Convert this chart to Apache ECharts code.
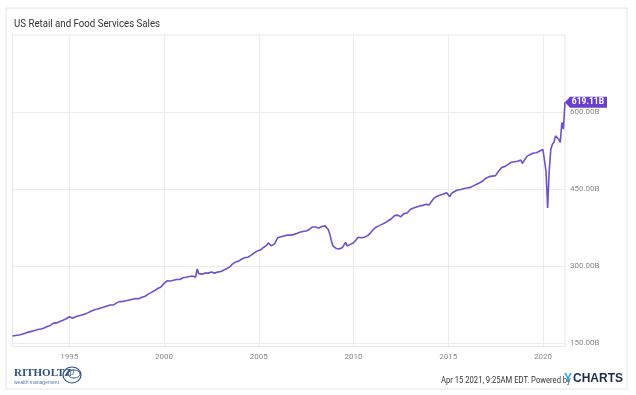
<!DOCTYPE html>
<html>
<head>
<meta charset="utf-8">
<script src="https://cdn.jsdelivr.net/npm/echarts@6/dist/echarts.min.js"></script>
<style>
html,body{margin:0;padding:0;background:#fff;}
#c{width:636px;height:395px;}
</style>
</head>
<body>
<div id="c"></div>
<script>
// ---- Data (billions USD, monthly, Jan 1992 - Mar 2021) ----
var startYear = 1992;
var v1992 = [163.5,164,164.5,165,165.5,166.5,167,168,169,170,171,172];
var v1993 = [172.5,173,174,175,176,176.5,177,178,179,180.5,182,183];
var v1994 = [184,186,188.5,188,189,190,191.5,193,194,195.5,197,198.5];
var v1995 = [201,199,198,199.5,201,202,203,203.5,204.5,205.5,206.5,207.5];
var v1996 = [209,211,212,213,214.5,215,216,217,218,219,220,221];
var v1997 = [222,223,224,225,224,225,228,227,230.5,230,231,231.5];
var v1998 = [232,233,233.5,234,235,236,236.5,237,236,237.5,239,240];
var v1999 = [241,243,245,247,248.5,250,252,254,256,257,259,262];
var v2000 = [266,269,271,270,270.5,271,272,272.5,273.5,273,273.5,274];
var v2001 = [277,278,278,279,279.5,280,280.5,281,278,294,285,284];
var v2002 = [284,285,286,285.5,286,286.5,288,290,286,287,288,289];
var v2003 = [289,290,292,294,295,296,299,303,306,307,307.5,309];
var v2004 = [311,313,316,316,318,317,320,320.5,323,325,327,329];
var v2005 = [330,331,334,336,335.5,340,345,343,339,341,343,344];
var v2006 = [355,356,357,358,358.5,359,360,361,360,360,361,362];
var v2007 = [363,364,365.5,365,367,366.5,368,369,371,373,376,377];
var v2008 = [376,375,374,375,377,378,378,376,371,362,349,339];
var v2009 = [337,334,332,333,334,336,337,346,339,341,342,344];
var v2010 = [345,346,352,356,354,355,355.5,356,357,359,362,365];
var v2011 = [369,372,375,377,378,379.5,381,382,384,386,388,390];
var v2012 = [392,395,398,400,399,398,396,399,402,402,403,405];
var v2013 = [410,412,413,414,415,416.5,417,418,418,419,420,421];
var v2014 = [419,424,428,432,434,436,437,438,439,440,441,442.7];
var v2015 = [440,435,441,443,445,447,448,449,449,450,451,451];
var v2016 = [452,452.5,453,455,456,458,459,460,462,465,466,468];
var v2017 = [471,473,474,474.5,475,475.5,476,476.6,485,488,492,495];
var v2018 = [494,495,498,499,502,503,503,504,504,505,506.5,499.5];
var v2019 = [505,508,514,515.7,517,518,520,521,520.5,524,524,525];
var v2020 = [527,529,484,413,486,527,537,541,553.5,552,547,540.5];
var v2021 = [579.6,566.5,619.11];
var yTickValues = [150,300,450,600];
var lastLabel = '619.11B';

var values = [].concat(v1992,v1993,v1994,v1995,v1996,v1997,v1998,v1999,v2000,v2001,
  v2002,v2003,v2004,v2005,v2006,v2007,v2008,v2009,v2010,v2011,v2012,v2013,v2014,
  v2015,v2016,v2017,v2018,v2019,v2020,v2021);
var categories = values.map(function(_, i){
  var y = startYear + Math.floor(i/12), m = i % 12 + 1;
  return y + '-' + (m < 10 ? '0' + m : m);
});
function isMajor(val){
  var p = val.split('-');
  return p[1] === '01' && (+p[0]) % 5 === 0;
}

var fam = "Roboto,sans-serif";
var chart = echarts.init(document.getElementById('c'), null, {renderer:'canvas'});
chart.setOption({
  backgroundColor:'#fff',
  animation:false,
  grid:{left:12.5, right:71, top:35, bottom:48.5, show:true, borderColor:'#e8e8e8', borderWidth:1},
  xAxis:{
    type:'category', data:categories, boundaryGap:false,
    axisLine:{show:false}, axisTick:{show:false},
    axisLabel:{interval:function(i,v){return isMajor(v);}, formatter:function(v){return v.split('-')[0];},
      color:'#888', fontFamily:fam, fontSize:8, margin:6},
    splitLine:{show:true, interval:function(i,v){return isMajor(v);}, lineStyle:{color:'#ececec'}}
  },
  yAxis:{
    type:'value', position:'right', min:143, max:750,
    axisLine:{show:false},
    axisTick:{show:false, customValues:yTickValues},
    axisLabel:{customValues:yTickValues, formatter:function(v){return v.toFixed(2)+'B';},
      color:'#888', fontFamily:fam, fontSize:8, margin:5, verticalAlign:'middle', lineHeight:10, padding:[0,0,6,0]},
    splitLine:{show:true, lineStyle:{color:'#ececec'}}
  },
  series:[{
    type:'line', data:values, showSymbol:false, symbol:'none',
    lineStyle:{color:'#6f51c9', width:1.6},
    markPoint:{
      symbol:'path://M0,5 L5,0 L42,0 L42,10 L5,10 Z',
      symbolKeepAspect:false,
      symbolSize:[42,11],
      symbolOffset:[21,0],
      itemStyle:{color:'#6a3fcd'},
      label:{show:true, formatter:lastLabel, color:'#fff', fontFamily:fam, fontSize:8.5, fontWeight:'bold', offset:[2,0]},
      data:[{coord:[categories[categories.length-1], values[values.length-1]]}]
    }
  }],
  graphic:[
    {type:'rect', shape:{x:6,y:8,width:621,height:381}, style:{fill:'none', stroke:'#e6e6e6', lineWidth:1}, z:-10},
    {type:'text', x:14, y:24, scaleX:0.88, style:{text:'US Retail and Food Services Sales', font:'11px '+fam, fill:'#333', verticalAlign:'middle'}},
    {type:'text', left:14, top:368, style:{text:'RITHOLTZ', font:'bold 11px "Liberation Serif", serif', fill:'#2b4f86'}},
    {type:'text', left:14, top:380, style:{text:'wealth management', font:'5px "Liberation Sans", sans-serif', fill:'#5a7aa8'}},
    {type:'ellipse', shape:{cx:72, cy:375, rx:9, ry:8}, style:{fill:'none', stroke:'#2b4f86', lineWidth:1.2}},
    {type:'ellipse', shape:{cx:74, cy:374, rx:6, ry:4}, style:{fill:'none', stroke:'#2b4f86', lineWidth:1}},
    {type:'text', left:66, top:369, style:{text:'20', font:'italic 8px "Liberation Serif", serif', fill:'#2b4f86'}},
    {type:'text', x:441, y:381, scaleX:0.9, style:{text:'Apr 15 2021, 9:25AM EDT. Powered by', font:'8.5px '+fam, fill:'#333', verticalAlign:'middle'}},
    {type:'text', left:564, top:373, style:{text:'Y', font:'bold 12px "Liberation Sans", sans-serif', fill:'#27a9e1'}},
    {type:'text', left:573, top:373, style:{text:'CHARTS', font:'bold 12px "Liberation Sans", sans-serif', fill:'#1e2b4d'}}
  ]
});
</script>
</body>
</html>
